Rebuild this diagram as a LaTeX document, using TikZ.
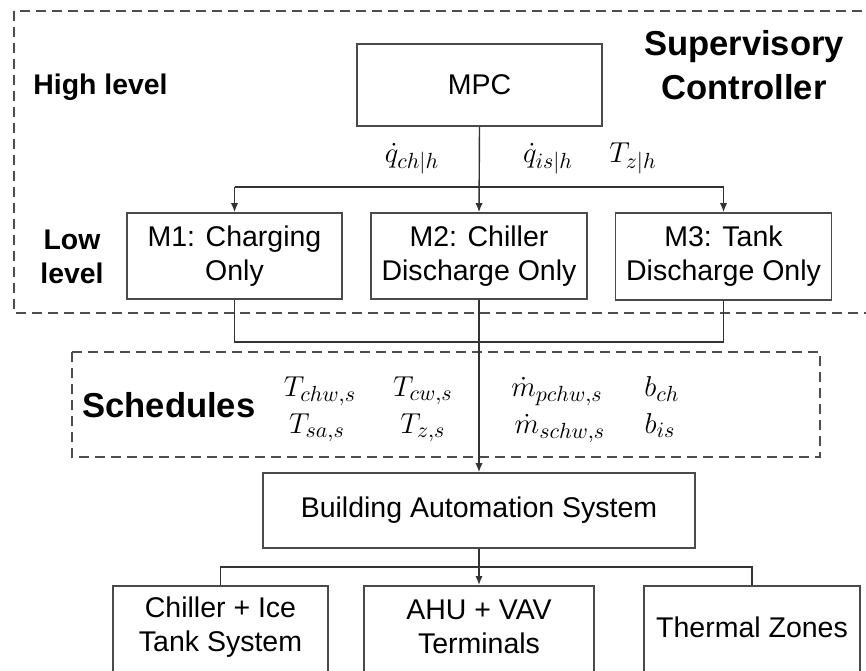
\documentclass[tikz,border=0pt]{standalone}
\usepackage{fontspec}
\setmainfont{Liberation Sans}
\usetikzlibrary{arrows.meta,calc}
\DeclareMathSizes{15}{15}{11}{8}
\definecolor{bordc}{HTML}{4A4A4A}
\definecolor{connc}{HTML}{333333}
\definecolor{dashc}{HTML}{4D4D4D}
\begin{document}
\begin{tikzpicture}[x=0.5pt,y=-0.5pt,
  boxs/.style={draw=bordc, line width=0.8pt, inner sep=0pt, align=center, font=\fontsize{14.25}{17}\selectfont, text=black},
  txt/.style={inner sep=0pt, align=center, font=\fontsize{14.25}{17}\selectfont},
  conn/.style={draw=connc, line width=0.7pt},
  arr/.style={conn, -{Latex[length=4.5pt,width=3.6pt]}},
  dbox/.style={draw=dashc, line width=1pt, dash pattern=on 5pt off 3pt},
  bigb/.style={font=\fontsize{17.3}{22}\selectfont\bfseries, align=center, inner sep=0pt},
  smallb/.style={font=\fontsize{14.2}{17}\selectfont\bfseries, align=center, inner sep=0pt},
  mth/.style={font=\fontsize{15}{17}\selectfont, inner sep=0pt, anchor=base}]
\useasboundingbox (0,0) rectangle (866,670);
\clip (0,0) rectangle (866,670);

% dashed groups
\draw[dbox] (14,11) rectangle (880,313);
\draw[dbox] (72,352) rectangle (820,457);

% boxes
\node[boxs, minimum width=122.5pt, minimum height=41pt] (mpc) at (479.5,85) {MPC};
\node[boxs, minimum width=107.5pt, minimum height=43pt] (m1) at (234.5,256) {M1: Charging\\Only};
\node[boxs, minimum width=108pt, minimum height=43pt] (m2) at (479,256) {M2: Chiller\\Discharge Only};
\node[boxs, minimum width=108pt, minimum height=43.5pt] (m3) at (723.5,256.5) {M3: Tank\\Discharge Only};
\node[boxs, minimum width=216pt, minimum height=37.5pt] (bas) at (479,510.5) {Building Automation System};
\node[boxs, minimum width=107.5pt, minimum height=60pt, anchor=north] (chil) at (220.5,585) {};
\node[boxs, minimum width=115pt, minimum height=60pt, anchor=north] (ahu) at (479,585) {};
\node[boxs, minimum width=108pt, minimum height=60pt, anchor=north] (tz) at (752,585) {};
\node[txt] (chilt) at (220.5,627) {Chiller + Ice\\Tank System};
\node[txt] (ahut) at (479,627) {AHU + VAV\\Terminals};
\node[txt] (tzt) at (752,627) {Thermal Zones};

% titles
\node[bigb] (sup) at (744,65) {Supervisory\\Controller};
\node[smallb, anchor=base west] (high) at (33,94) {High level};
\node[smallb] (low) at (72,257) {Low\\level};
\node[bigb, anchor=base west] (sched) at (82,417) {Schedules};

% signal labels
\node[mth] (qch) at (412,162) {$\dot{q}_{ch|h}$};
\node[mth] (qis) at (548,162) {$\dot{q}_{is|h}$};
\node[mth] (tzh) at (633,162) {$T_{z|h}$};

% schedule variables
\node[mth] (tchw) at (320,396) {$T_{chw,s}$};
\node[mth] (tcw) at (423,396) {$T_{cw,s}$};
\node[mth] (mp) at (557,396) {$\dot{m}_{pchw,s}$};
\node[mth] (bch) at (662,396) {$b_{ch}$};
\node[mth] (tsa) at (317,433) {$T_{sa,s}$};
\node[mth] (tzs) at (423,433) {$T_{z,s}$};
\node[mth] (ms) at (560,433) {$\dot{m}_{schw,s}$};
\node[mth] (bis) at (660,433) {$b_{is}$};

% connectors
\coordinate (bus) at (479,187);
\coordinate (join) at (479,342);
\coordinate (bus2) at (479,567);
\draw[arr] (mpc.south) -- (m2.north);
\draw[conn] (m1.north |- bus) -- (m3.north |- bus);
\draw[arr] (m1.north |- bus) -- (m1.north);
\draw[arr] (m3.north |- bus) -- (m3.north);
\draw[conn] (m1.south) -- (m1.south |- join) -- (m3.south |- join) -- (m3.south);
\draw[arr] (m2.south) -- (bas.north);
\draw[arr] (bas.south) -- (ahu.north);
\draw[conn] (chil.north) -- (chil.north |- bus2) -- (tz.north |- bus2) -- (tz.north);
\end{tikzpicture}
\end{document}
